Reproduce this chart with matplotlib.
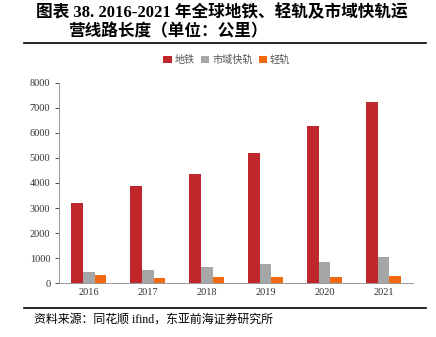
import numpy as np
import matplotlib
matplotlib.use("Agg")
import matplotlib.pyplot as plt
from matplotlib.lines import Line2D

plt.rcParams['font.family'] = ['Liberation Serif', 'Noto Sans CJK SC']

years = ['2016', '2017', '2018', '2019', '2020', '2021']
metro = [3190, 3880, 4350, 5195, 6270, 7215]
suburban = [440, 530, 660, 780, 835, 1035]
light_rail = [320, 225, 250, 250, 250, 290]
series_names = ['地铁', '市域快轨', '轻轨']
colors = ['#C0272D', '#A6A6A6', '#F2690F']

fig = plt.figure(figsize=(4.36, 3.37), dpi=100)
ax = fig.add_axes([0.136, 0.159, 0.811, 0.596])

x = np.arange(len(years))
w = 0.2
for i, (vals, name, c) in enumerate(zip([metro, suburban, light_rail], series_names, colors)):
    ax.bar(x + (i - 1) * w, vals, width=w, color=c, label=name)

ax.set_xlim(-0.5, len(years) - 0.5)
ax.set_ylim(0, 8000)
ax.set_yticks(range(0, 8001, 1000))
ax.set_xticks(x)
ax.set_xticklabels(years)
ax.tick_params(axis='both', labelsize=7.5, colors='#333333', length=3, width=0.6)
ax.tick_params(axis='x', length=0)
for s in ['top', 'right']:
    ax.spines[s].set_visible(False)
ax.spines['left'].set_color('#888888')
ax.spines['bottom'].set_color('#888888')
ax.spines['left'].set_linewidth(0.6)
ax.spines['bottom'].set_linewidth(0.6)

leg = fig.legend(loc='center', bbox_to_anchor=(0.52, 0.822), ncol=3, frameon=False,
                 fontsize=7.3, handlelength=0.8, handleheight=0.8, handletextpad=0.3,
                 columnspacing=0.6)
for t in leg.get_texts():
    t.set_color('#555555')

fig.text(0.083, 0.963, '图表 38. 2016-2021 年全球地铁、轻轨及市域快轨运',
         fontsize=12, fontweight='bold', va='center', ha='left')
fig.text(0.156, 0.905, '营线路长度（单位：公里）',
         fontsize=12, fontweight='bold', va='center', ha='left')
fig.add_artist(Line2D([0.055, 0.977], [0.872, 0.872], color='black', lw=1.2))
fig.add_artist(Line2D([0.055, 0.977], [0.086, 0.086], color='black', lw=1.2))
fig.text(0.078, 0.053, '资料来源：同花顺 ifind，东亚前海证券研究所',
         fontsize=8.6, va='center', ha='left')

fig.savefig('out.png', dpi=100)
